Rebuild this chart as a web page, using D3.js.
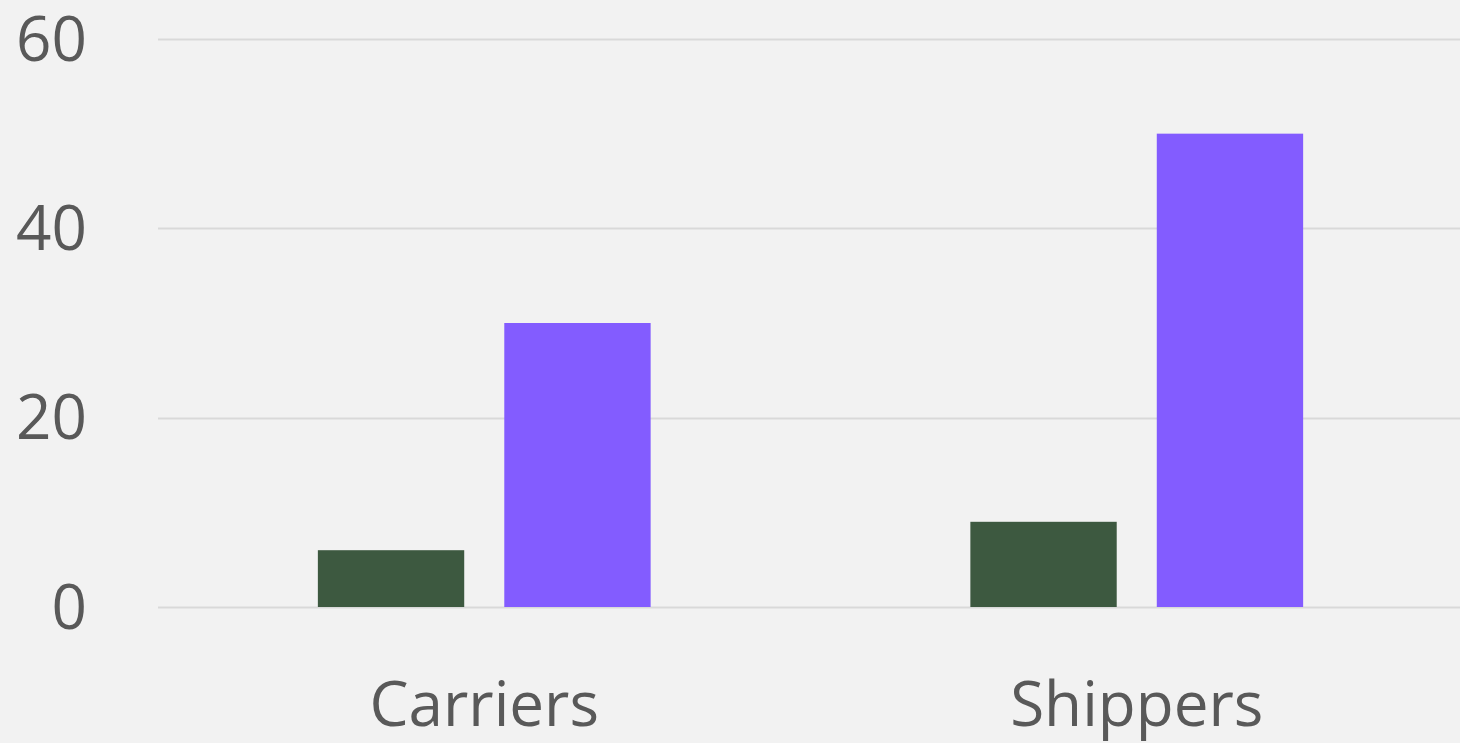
<!DOCTYPE html>
<html>
<head>
<meta charset="utf-8">
<script src="https://cdn.jsdelivr.net/npm/d3@7"></script>
<style>
  html, body { margin: 0; padding: 0; background: #f2f2f2; }
  svg { display: block; }
</style>
</head>
<body>
<div id="chart"></div>
<script>
const categories = ["Carriers", "Shippers"];
const seriesNames = ["Series 1", "Series 2"];
const series1 = [6, 9];
const series2 = [30, 50];
const yTicks = [0, 20, 40, 60];

const WIDTH = 1460, HEIGHT = 743;
// plot area runs a few px past the right edge of the page
const MARGIN = { LEFT: 158, RIGHT: -3, TOP: 39, BOTTOM: 136 };
const colors = ["#3d5940", "#835cff"];

const data = categories.map((c, i) => ({ cat: c, values: [series1[i], series2[i]] }));

const svg = d3.select("#chart").append("svg")
  .attr("width", WIDTH)
  .attr("height", HEIGHT);

svg.append("rect").attr("width", WIDTH).attr("height", HEIGHT).attr("fill", "#f2f2f2");

const x = d3.scaleBand().domain(categories).range([MARGIN.LEFT, WIDTH - MARGIN.RIGHT]);
const y = d3.scaleLinear().domain([0, 60]).range([HEIGHT - MARGIN.BOTTOM, MARGIN.TOP]);

// inner band: two bars of ~146 with ~40 gap, centred in each category band
const barW = x.bandwidth() * 0.2243;
const gap = x.bandwidth() * 0.0614;
const x1 = d3.scaleBand().domain([0, 1])
  .range([x.bandwidth() / 2 - barW - gap / 2, x.bandwidth() / 2 + barW + gap / 2])
  .paddingInner(gap / (barW + gap))
  .paddingOuter(0);

// gridlines
svg.append("g")
  .selectAll("line")
  .data(yTicks)
  .join("line")
  .attr("x1", MARGIN.LEFT)
  .attr("x2", WIDTH)
  .attr("y1", d => Math.round(y(d)) + 0.5)
  .attr("y2", d => Math.round(y(d)) + 0.5)
  .attr("stroke", "#d9d9d9")
  .attr("stroke-width", 2);

// y tick labels
svg.append("g")
  .selectAll("text")
  .data(yTicks)
  .join("text")
  .attr("x", 87)
  .attr("y", d => y(d))
  .attr("dy", "0.35em")
  .attr("text-anchor", "end")
  .attr("font-family", "Open Sans")
  .attr("font-size", 62)
  .attr("fill", "#595959")
  .text(d => d);

// bars
const groups = svg.append("g")
  .selectAll("g")
  .data(data)
  .join("g")
  .attr("transform", d => `translate(${x(d.cat)},0)`);

groups.selectAll("rect")
  .data(d => d.values.map((v, i) => ({ i, v })))
  .join("rect")
  .attr("x", d => x1(d.i))
  .attr("width", x1.bandwidth())
  .attr("y", d => y(d.v))
  .attr("height", d => y(0) - y(d.v))
  .attr("fill", d => colors[d.i]);

// category labels
svg.append("g")
  .selectAll("text")
  .data(categories)
  .join("text")
  .attr("x", d => x(d) + x.bandwidth() / 2)
  .attr("y", 726)
  .attr("text-anchor", "middle")
  .attr("font-family", "Open Sans")
  .attr("font-size", 62)
  .attr("fill", "#595959")
  .text(d => d);
</script>
</body>
</html>
